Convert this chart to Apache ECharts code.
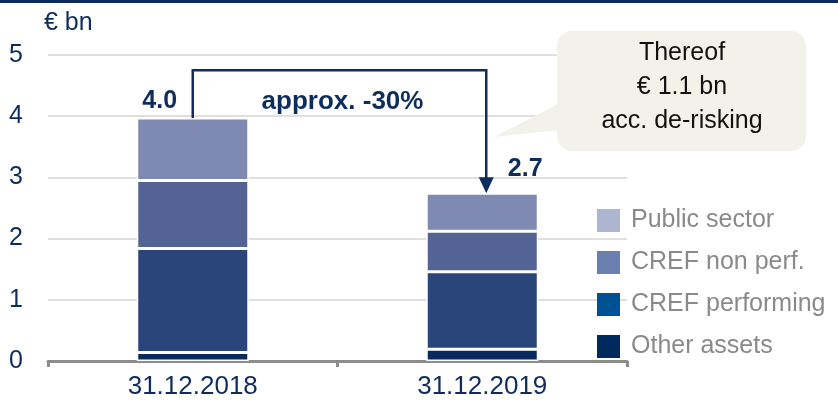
<!DOCTYPE html>
<html>
<head>
<meta charset="utf-8">
<script src="https://cdn.jsdelivr.net/npm/echarts@6/dist/echarts.min.js"></script>
<style>
html,body{margin:0;padding:0;background:#fff;}
#chart{width:838px;height:402px;}
</style>
</head>
<body>
<div id="chart"></div>
<script>
var categories = ['31.12.2018', '31.12.2019'];
var otherAssets = [0.14, 0.19];
var crefPerforming = [1.70, 1.27];
var crefNonPerf = [1.11, 0.66];
var publicSector = [1.02, 0.62];
var yTicks = [0, 1, 2, 3, 4, 5];
var changeText = 'approx. -30%';
var calloutLines = ['Thereof', '€ 1.1 bn', 'acc. de-risking'];

var NAVY = '#0f2d5c';
var FONT = '"Liberation Sans", Arial, sans-serif';
var totals = categories.map(function (c, i) {
  return otherAssets[i] + crefPerforming[i] + crefNonPerf[i] + publicSector[i];
});

var chart = echarts.init(document.getElementById('chart'));
var barW = 112;
var seg = {type: 'bar', stack: 'total', barWidth: barW,
  itemStyle: {borderColor: '#ffffff', borderWidth: 1.5}};

function mk(name, data, color, extra) {
  var s = Object.assign({}, seg, {name: name, data: data,
    itemStyle: Object.assign({}, seg.itemStyle, {color: color})});
  return Object.assign(s, extra || {});
}

var labelOffsets = [[-33, 0], [43, -8]];
var topData = publicSector.map(function (v, i) {
  return {value: v, label: {offset: labelOffsets[i]}};
});

chart.setOption({
  animation: false,
  textStyle: {fontFamily: FONT},
  grid: {left: 48, right: 211, top: 55, bottom: 41, containLabel: false},
  legend: {
    orient: 'vertical', left: 592, top: 203, itemWidth: 23, itemHeight: 23, itemGap: 17,
    selectedMode: false,
    textStyle: {fontFamily: FONT, fontSize: 25, color: '#8a8a8a', padding: [0, 0, 0, 6]},
    data: [
      {name: 'Public sector', icon: 'rect', itemStyle: {color: '#adb5d0', borderWidth: 0}},
      {name: 'CREF non perf.', icon: 'rect', itemStyle: {color: '#6a7fb0', borderWidth: 0}},
      {name: 'CREF performing', icon: 'rect', itemStyle: {color: '#005096', borderWidth: 0}},
      {name: 'Other assets', icon: 'rect', itemStyle: {color: '#002a5e', borderWidth: 0}}
    ]
  },
  xAxis: {
    type: 'category', data: categories,
    axisLine: {lineStyle: {color: '#8c8c8c', width: 3}},
    axisTick: {show: true, length: 6, lineStyle: {color: '#8c8c8c', width: 3}},
    axisLabel: {fontFamily: FONT, fontSize: 26, color: NAVY, margin: 13}
  },
  yAxis: {
    type: 'value', min: yTicks[0], max: yTicks[yTicks.length - 1], interval: 1,
    axisLine: {show: false}, axisTick: {show: false},
    axisLabel: {fontFamily: FONT, fontSize: 25, color: NAVY, margin: 25},
    splitLine: {lineStyle: {color: '#d4d4d4', width: 1.5}}
  },
  series: [
    mk('Other assets', otherAssets, '#0a2a60'),
    mk('CREF performing', crefPerforming, '#2a4579'),
    mk('CREF non perf.', crefNonPerf, '#536393'),
    mk('Public sector', topData, '#7f8ab2', {
      label: {show: true, position: 'top', distance: 4,
        fontFamily: FONT, fontSize: 25, fontWeight: 'bold', color: NAVY,
        formatter: function (p) { return totals[p.dataIndex].toFixed(1); }}
    })
  ]
});

var p1 = chart.convertToPixel({gridIndex: 0}, [0, totals[0]]);
var p2 = chart.convertToPixel({gridIndex: 0}, [1, totals[1]]);
var topY = chart.convertToPixel({gridIndex: 0}, [0, 4.75])[1];
var txtY = chart.convertToPixel({gridIndex: 0}, [0, 4.24])[1];
var ax = p2[0] + 4;
var lineStyle = {stroke: NAVY, lineWidth: 2.5, fill: null};

chart.setOption({
  graphic: [
    {type: 'rect', shape: {x: 0, y: 0, width: 838, height: 3}, style: {fill: '#0b2a5b'}},
    {type: 'text', left: 44, top: 11, style: {text: '€ bn', font: '25px ' + FONT, fill: NAVY}},
    {type: 'polyline', shape: {points: [[p1[0], p1[1]], [p1[0], topY], [ax, topY], [ax, p2[1] - 15]]},
      style: lineStyle},
    {type: 'polygon', shape: {points: [[ax - 7.5, p2[1] - 16], [ax + 7.5, p2[1] - 16], [ax, p2[1]]]},
      style: {fill: NAVY}},
    {type: 'text', x: (p1[0] + ax) / 2 + 3, y: txtY,
      style: {text: changeText, font: 'bold 26px ' + FONT, fill: NAVY, align: 'center', verticalAlign: 'middle'}},
    {type: 'group', children: [
      {type: 'polygon', shape: {points: [[560, 103], [494, 137], [560, 130]]}, style: {fill: '#f3f2ea'}},
      {type: 'rect', shape: {x: 557, y: 31, width: 249, height: 120, r: 15}, style: {fill: '#f3f2ea'}},
      {type: 'text', x: 682, y: 53, style: {text: calloutLines[0], font: '25px ' + FONT, fill: '#111', align: 'center', verticalAlign: 'middle'}},
      {type: 'text', x: 682, y: 87, style: {text: calloutLines[1], font: '25px ' + FONT, fill: '#111', align: 'center', verticalAlign: 'middle'}},
      {type: 'text', x: 682, y: 121, style: {text: calloutLines[2], font: '25px ' + FONT, fill: '#111', align: 'center', verticalAlign: 'middle'}}
    ]}
  ]
});
</script>
</body>
</html>
